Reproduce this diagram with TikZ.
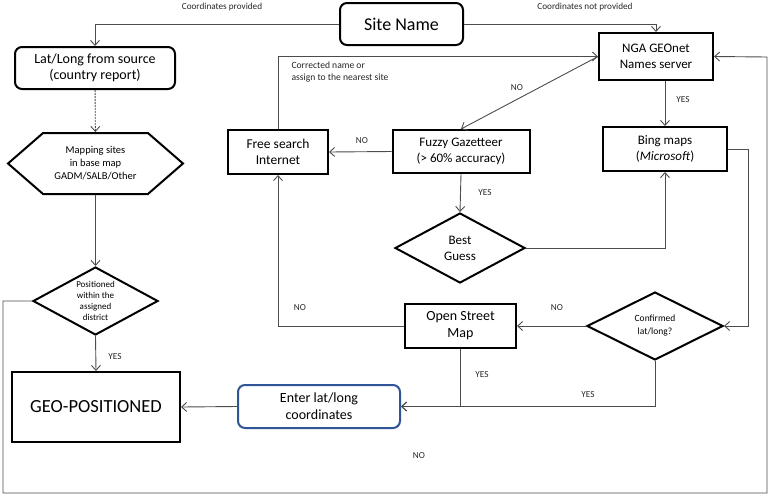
\documentclass[tikz,border=0pt]{standalone}
\usepackage{fontspec}
\setmainfont{Carlito}
\usetikzlibrary{arrows.meta,shapes.geometric,shapes.symbols}
\definecolor{enterblue}{RGB}{47,85,151}

\begin{document}
\begin{tikzpicture}[x=1pt,y=-1pt,
  box/.style={draw,line width=2pt,inner sep=0pt,align=center},
  rbox/.style={box,rounded corners=7pt},
  decision/.style={diamond,draw,line width=2pt,inner sep=0pt},
  line/.style={draw=black!70,line width=0.9pt},
  arr/.style={line,-{Straight Barb[length=5pt,width=9pt]}},
  lbl/.style={font=\fontsize{9.2}{11}\selectfont,text=black!85}]
  \useasboundingbox (0,0) rectangle (778,496);

  % Boxes
  \node[rbox,minimum width=123pt,minimum height=42pt,font=\fontsize{18}{20}\selectfont] (site) at (401.5,24) {Site Name};
  \node[rbox,minimum width=160pt,minimum height=42pt,font=\fontsize{14}{15.5}\selectfont] (latlong) at (95,68) {Lat/Long from source\\(country report)};
  \node[box,minimum width=114pt,minimum height=47pt,font=\fontsize{13}{15.5}\selectfont] (nga) at (656,56.5) {NGA GEOnet\\Names server};
  \node[box,minimum width=100pt,minimum height=44pt,font=\fontsize{13.5}{16}\selectfont] (free) at (278,152) {Free search\\Internet};
  \node[box,minimum width=137pt,minimum height=43pt,font=\fontsize{13}{16.5}\selectfont] (fuzzy) at (461,151.5) {Fuzzy Gazetteer\\(> 60\% accuracy)};
  \node[box,minimum width=124pt,minimum height=44pt,font=\fontsize{13}{16}\selectfont] (bing) at (665,149) {Bing maps\\(\textit{Microsoft})};
  \node[signal,signal to=west and east,signal pointer angle=82,draw,line width=2pt,
    minimum width=175pt,minimum height=61pt,inner sep=0pt,align=center,
    font=\fontsize{10.5}{13}\selectfont] (mapsites) at (95.5,163.5) {Mapping sites\\in base map\\GADM/SALB/Other};
  \node[box,minimum width=168pt,minimum height=70pt,font=\fontsize{18.5}{20}\selectfont] (geo) at (96,407) {GEO-POSITIONED};
  \node[rbox,draw=enterblue,minimum width=162pt,minimum height=43pt,font=\fontsize{14}{17}\selectfont] (enter) at (319,406.5) {Enter lat/long\\coordinates};
  \node[box,minimum width=111pt,minimum height=44pt,font=\fontsize{14}{17}\selectfont] (osm) at (460.5,326) {Open Street\\Map};

  % Decisions
  \node[decision,minimum width=125pt,minimum height=68pt] (pos) at (95.5,301) {};
  \node[align=center,font=\fontsize{9}{11}\selectfont] (postext) at (pos) {Positioned\\within the\\assigned\\district};
  \node[decision,minimum width=136pt,minimum height=68pt] (conf) at (655,326) {};
  \node[align=center,font=\fontsize{9.5}{13}\selectfont] (conftext) at (conf) {Confirmed\\lat/long?};
  \node[decision,minimum width=130pt,minimum height=70pt] (guess) at (460,248) {};
  \node[align=center,font=\fontsize{13}{16}\selectfont] (guesstext) at (guess) {Best\\Guess};

  % Turning points
  \coordinate (bingturn) at (748,149);
  \coordinate (loopbl) at (3,493);
  \coordinate (looptr) at (767,57);

  % Connectors
  \draw[arr] (site.west) -| (latlong.north);
  \draw[arr] (site.east) -| (nga.north);
  \draw[arr,dash pattern=on 2pt off 1pt] (latlong) -- (mapsites);
  \draw[arr] (mapsites.south) -- (pos.north);
  \draw[arr] (pos.south) -- (geo.north);
  \draw[arr] (pos.west) -| (loopbl) -| (looptr) -- (nga.east);
  \draw[arr] (free.north) |- (nga.west);
  \draw[arr] (nga.west) -- (fuzzy.north);
  \draw[arr] (bing.north |- nga.south) -- (bing.north);
  \draw[arr] (fuzzy.west) -- (free.east);
  \draw[arr] (fuzzy.south) -- (guess.north);
  \draw[arr] (guess.east) -| (bing.south);
  \draw[arr] (bing.east) -- (bingturn) |- (conf.east);
  \draw[arr] (conf.west) -- (osm.east);
  \draw[arr] (osm.west) -| (free.south);
  \draw[arr] (osm.south) |- (enter.east);
  \draw[arr] (conf.south) |- (enter.east);
  \draw[arr] (enter.west) -- (geo.east);

  % Labels
  \node[lbl] (lprov) at (222,7) {Coordinates provided};
  \node[lbl] (lnotprov) at (585,7) {Coordinates not provided};
  \node[lbl,font=\fontsize{9.6}{12}\selectfont,align=left,anchor=west] (lcorr) at (288,72) {Corrected name or\\assign to the nearest site};
  \node[lbl] (lno1) at (517,88) {NO};
  \node[lbl] (lyes1) at (683,100) {YES};
  \node[lbl] (lno2) at (362,141) {NO};
  \node[lbl] (lyes2) at (485,193) {YES};
  \node[lbl] (lno3) at (300,308) {NO};
  \node[lbl] (lno4) at (557,308) {NO};
  \node[lbl] (lyes3) at (115,357) {YES};
  \node[lbl] (lyes4) at (482,375) {YES};
  \node[lbl] (lyes5) at (588,395) {YES};
  \node[lbl] (lno5) at (419,456) {NO};
\end{tikzpicture}
\end{document}
